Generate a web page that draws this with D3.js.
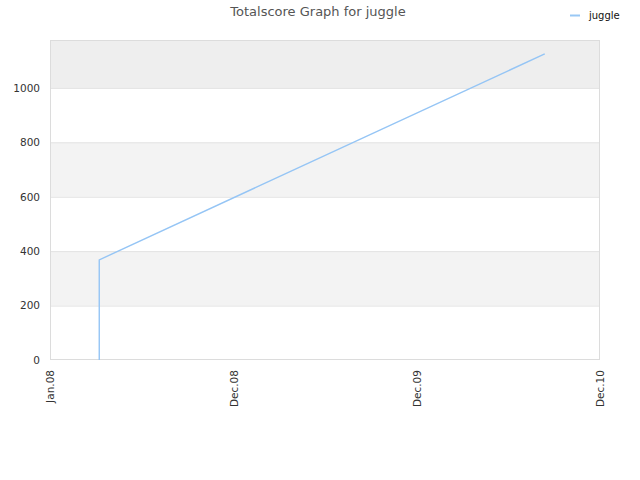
<!DOCTYPE html>
<html><head><meta charset="utf-8">
<script src="https://cdn.jsdelivr.net/npm/d3@7"></script>
<style>body{margin:0;background:#fff}svg{display:block}text{font-family:"DejaVu Sans",sans-serif}</style>
</head><body><svg id="c" width="640" height="480"></svg>
<script>
const title = "Totalscore Graph for juggle";
const seriesName = "juggle";
const tickDates = ["2008-01-01","2008-12-01","2009-12-01","2010-12-01"];
const tickLabels = ["Jan.08","Dec.08","Dec.09","Dec.10"];
const dates = ["2008-03-31","2008-03-31","2010-08-13"];
const values = [0, 368, 1125];
const yTicks = [0,200,400,600,800,1000];
const yMax = 1176;

const parse = d3.timeParse("%Y-%m-%d");
const svg = d3.select("#c");
const L=50,R=600,T=40,B=360;
const tickPos = tickDates.map((d,i)=>L+(R-L)*i/(tickDates.length-1));
const x = d3.scaleTime().domain(tickDates.map(parse)).range(tickPos);
const y = d3.scaleLinear().domain([0,yMax]).range([B,T]);

const bands = [];
for(let i=0;i<yTicks.length;i++){
  const lo=yTicks[i], hi = i+1<yTicks.length?yTicks[i+1]:yMax;
  bands.push({lo,hi,i});
}
svg.selectAll("rect.band").data(bands).join("rect")
  .attr("x",L).attr("width",R-L)
  .attr("y",d=>y(d.hi)).attr("height",d=>y(d.lo)-y(d.hi))
  .attr("fill",d=>d.i===yTicks.length-1?"#eeeeee":(d.i%2===1?"#f3f3f3":"#ffffff"));
svg.selectAll("line.grid").data(yTicks.slice(1)).join("line")
  .attr("x1",L).attr("x2",R).attr("y1",d=>y(d)+0.5).attr("y2",d=>y(d)+0.5)
  .attr("stroke","#e2e2e2");
svg.append("rect").attr("x",L+0.5).attr("y",T+0.5).attr("width",R-L-1).attr("height",B-T-1)
  .attr("fill","none").attr("stroke","#dcdcdc");

const ya = svg.append("g").attr("transform",`translate(${L},0)`)
  .call(d3.axisLeft(y).tickValues(yTicks).tickFormat(d3.format("d")).tickSize(0).tickPadding(10));
ya.select(".domain").remove();
ya.selectAll("text").attr("font-size",10.5).attr("fill","#333").style("font-family","DejaVu Sans");

const xa = svg.append("g").attr("transform",`translate(0,${B})`)
  .call(d3.axisBottom(x).tickValues(tickDates.map(parse)).tickFormat((d,i)=>tickLabels[i]).tickSize(0));
xa.select(".domain").remove();
xa.selectAll("text").attr("font-size",10.5).attr("fill","#333").style("font-family","DejaVu Sans")
  .attr("transform","rotate(-90)").attr("text-anchor","end").attr("x",-10).attr("y",0).attr("dy","0.35em");

const pts = dates.map((d,i)=>[parse(d),values[i]]);
svg.append("path").datum(pts)
  .attr("d",d3.line().x(d=>x(d[0])).y(d=>y(d[1])))
  .attr("fill","none").attr("stroke","#95c5f5").attr("stroke-width",1.4);

svg.append("text").attr("x",318).attr("y",16).attr("text-anchor","middle")
  .attr("font-size",13).attr("fill","#555").text(title);
svg.append("line").attr("x1",570).attr("x2",580).attr("y1",15.5).attr("y2",15.5)
  .attr("stroke","#99c8f5").attr("stroke-width",2);
svg.append("text").attr("x",589).attr("y",19).attr("font-size",10).attr("fill","#111").text(seriesName);
</script></body></html>
